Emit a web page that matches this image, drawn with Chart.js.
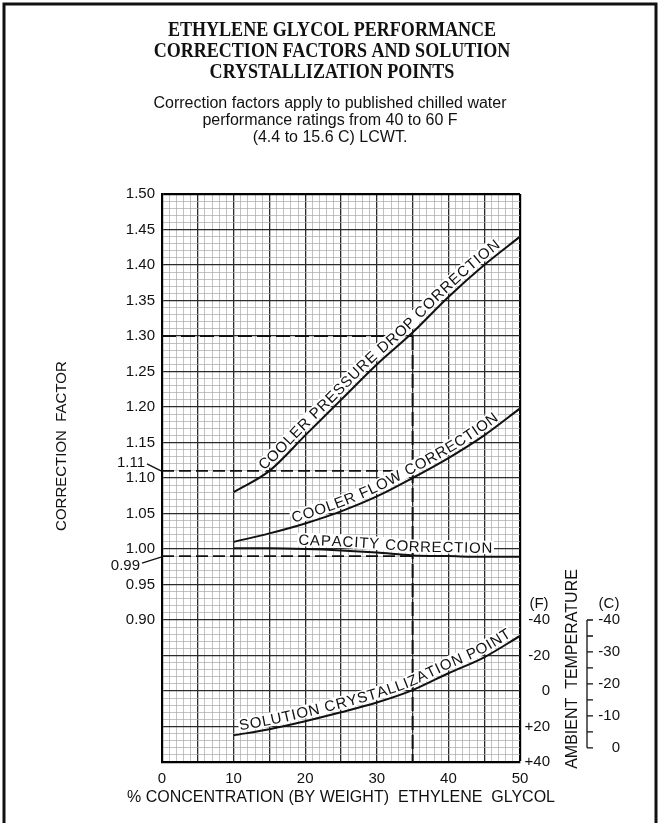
<!DOCTYPE html>
<html>
<head>
<meta charset="utf-8">
<script src="https://cdn.jsdelivr.net/npm/chart.js@4.4.1/dist/chart.umd.min.js"></script>
<style>
  html, body { margin: 0; padding: 0; background: #fff; }
  #wrap { position: relative; width: 660px; height: 823px; }
</style>
</head>
<body>
<div id="wrap"><canvas id="myChart"></canvas></div>
<script>
// % ethylene glycol by weight
var concentration = [10, 15, 20, 25, 30, 35, 40, 45, 50];
var pressureDrop = [1.08, 1.11, 1.16, 1.21, 1.26, 1.305, 1.355, 1.40, 1.44];
var flowCorrection = [1.01, 1.022, 1.036, 1.053, 1.074, 1.10, 1.128, 1.16, 1.198];
var capacityCorrection = [1.001, 1.001, 1.000, 0.998, 0.995, 0.991, 0.990, 0.989, 0.989];
// solution crystallization point, deg F
var crystalPointF = [25, 21.5, 17, 12, 6.5, -0.5, -10, -19, -31];

// worked example read at 35 %
var examplePct = 35;
var examplePressure = 1.30;
var exampleFlow = 1.11;
var exampleCapacity = 0.99;

var xTickLabels = [0, 10, 20, 30, 40, 50];
var yTickLabels = [0.90, 0.95, 1.00, 1.05, 1.10, 1.15, 1.20, 1.25, 1.30, 1.35, 1.40, 1.45, 1.50];
var calloutValues = [1.11, 0.99];
var fTicks = [-40, -20, 0, 20, 40];
var cTicks = [-40, -35, -30, -25, -20, -15, -10, -5, 0];
var cTickLabels = [-40, -30, -20, -10, 0];

var curveLabels = [
    {dataset: 0, text: 'COOLER PRESSURE DROP CORRECTION', from: 14.4},
    {dataset: 1, text: 'COOLER FLOW CORRECTION', from: 18.3},
    {dataset: 2, text: 'CAPACITY CORRECTION', from: 19},
    {dataset: 3, text: 'SOLUTION CRYSTALLIZATION POINT', from: 10.9}
];

var SANS = '"Liberation Sans", Arial, Helvetica, sans-serif';
var SERIF = '"Liberation Serif", "Times New Roman", serif';
var INK = '#111';

function pairs(xs, ys) {
    return xs.map(function (x, i) { return {x: x, y: ys[i]}; });
}

function curve(data, axis) {
    return {
        data: data, yAxisID: axis || 'y',
        borderColor: INK, borderWidth: 2, pointRadius: 0,
        cubicInterpolationMode: 'monotone', fill: false
    };
}

function dashed(data, width, dash) {
    return {
        data: data, borderColor: INK, borderWidth: width, borderDash: dash,
        pointRadius: 0, tension: 0, fill: false
    };
}

function majorX(v) { return Math.round(v) % 5 === 0; }
function majorY(v) { return Math.round(v * 100) % 5 === 0; }

// ---- text along a drawn curve ----
function samplePath(points) {
    var out = [];
    for (var i = 0; i < points.length - 1; i++) {
        var a = points[i], b = points[i + 1];
        var c1x = a.cp2x !== undefined ? a.cp2x : a.x, c1y = a.cp2y !== undefined ? a.cp2y : a.y;
        var c2x = b.cp1x !== undefined ? b.cp1x : b.x, c2y = b.cp1y !== undefined ? b.cp1y : b.y;
        for (var k = 0; k < 20; k++) {
            var t = k / 20, m = 1 - t;
            out.push({
                x: m * m * m * a.x + 3 * m * m * t * c1x + 3 * m * t * t * c2x + t * t * t * b.x,
                y: m * m * m * a.y + 3 * m * m * t * c1y + 3 * m * t * t * c2y + t * t * t * b.y
            });
        }
    }
    var last = points[points.length - 1];
    out.push({x: last.x, y: last.y});
    var cum = [0];
    for (var j = 1; j < out.length; j++) {
        cum.push(cum[j - 1] + Math.hypot(out[j].x - out[j - 1].x, out[j].y - out[j - 1].y));
    }
    return {p: out, cum: cum};
}

function posAt(path, s) {
    var p = path.p, cum = path.cum;
    if (s <= 0) return p[0];
    for (var i = 1; i < p.length; i++) {
        if (cum[i] >= s) {
            var f = (s - cum[i - 1]) / (cum[i] - cum[i - 1] || 1);
            return {x: p[i - 1].x + f * (p[i].x - p[i - 1].x), y: p[i - 1].y + f * (p[i].y - p[i - 1].y)};
        }
    }
    var a = p[p.length - 2], b = p[p.length - 1], over = s - cum[cum.length - 1];
    var L = Math.hypot(b.x - a.x, b.y - a.y) || 1;
    return {x: b.x + (b.x - a.x) / L * over, y: b.y + (b.y - a.y) / L * over};
}

function drawCurveLabel(c, chart, lab) {
    var meta = chart.getDatasetMeta(lab.dataset);
    var path = samplePath(meta.data);
    var startPx = chart.scales.x.getPixelForValue(lab.from);
    var s = 0;
    for (var i = 0; i < path.p.length; i++) {
        if (path.p[i].x >= startPx) { s = path.cum[i]; break; }
    }
    c.font = '15px ' + SANS;
    var items = [];
    for (var n = 0; n < lab.text.length; n++) {
        var ch = lab.text[n];
        var w = c.measureText(ch).width;
        var p0 = posAt(path, s), p1 = posAt(path, s + w), pm = posAt(path, s + w / 2);
        items.push({ch: ch, x: pm.x, y: pm.y, a: Math.atan2(p1.y - p0.y, p1.x - p0.x), w: w});
        s += w + 0.8;
    }
    var gap = 4;
    c.fillStyle = '#fff';
    items.forEach(function (it) {
        c.save();
        c.translate(it.x, it.y);
        c.rotate(it.a);
        c.fillRect(-it.w / 2 - 1, -gap - 12, it.w + 2.8, 13.5);
        c.restore();
    });
    c.fillStyle = INK;
    c.textAlign = 'center';
    c.textBaseline = 'alphabetic';
    items.forEach(function (it) {
        c.save();
        c.translate(it.x, it.y);
        c.rotate(it.a);
        c.fillText(it.ch, 0, -gap);
        c.restore();
    });
}

function centeredLines(c, lines, font, cx, y0, dy, squeeze) {
    c.font = font;
    c.textAlign = 'center';
    c.textBaseline = 'alphabetic';
    lines.forEach(function (t, i) {
        c.save();
        c.translate(cx, y0 + i * dy);
        c.scale(squeeze, 1);
        c.fillText(t, 0, 0);
        c.restore();
    });
}

var sheet = {
    id: 'sheet',
    beforeDraw: function (chart) {
        var c = chart.ctx;
        c.save();
        c.fillStyle = '#fff';
        c.fillRect(0, 0, chart.width, chart.height);
        c.restore();
    },
    afterDatasetsDraw: function (chart) {
        var c = chart.ctx;
        c.save();
        curveLabels.forEach(function (lab) { drawCurveLabel(c, chart, lab); });
        c.restore();
    },
    afterDraw: function (chart) {
        var c = chart.ctx;
        var area = chart.chartArea;
        var y = chart.scales.y, yF = chart.scales.yF, yC = chart.scales.yC;
        c.save();
        c.fillStyle = INK;
        c.strokeStyle = INK;

        // heading
        centeredLines(c, ['ETHYLENE GLYCOL PERFORMANCE', 'CORRECTION FACTORS AND SOLUTION', 'CRYSTALLIZATION POINTS'],
            'bold 22px ' + SERIF, 332, 36, 21, 0.82);
        centeredLines(c, ['Correction factors apply to published chilled water', 'performance ratings from 40 to 60 F', '(4.4 to 15.6 C) LCWT.'],
            '16px ' + SANS, 330, 108, 17, 1);

        // frame
        c.lineWidth = 3;
        c.beginPath();
        c.moveTo(4, 840); c.lineTo(4, 4); c.lineTo(656, 4); c.lineTo(656, 840);
        c.stroke();

        // axis titles
        var xTitle = '% CONCENTRATION (BY WEIGHT)  ETHYLENE  GLYCOL';
        c.font = '16px ' + SANS;
        c.textAlign = 'center';
        c.textBaseline = 'middle';
        c.save();
        c.translate(341, area.bottom + 36);
        c.scale(428 / c.measureText(xTitle).width, 1);
        c.fillText(xTitle, 0, 0);
        c.restore();
        c.save();
        c.font = '15px ' + SANS;
        c.translate(62, y.getPixelForValue(1.145));
        c.rotate(-Math.PI / 2);
        c.fillText('CORRECTION  FACTOR', 0, 0);
        c.restore();

        // 1.11 and 0.99 callouts
        c.font = '15px ' + SANS;
        c.textAlign = 'right';
        c.textBaseline = 'middle';
        c.lineWidth = 1.3;
        calloutValues.forEach(function (v) {
            var py = y.getPixelForValue(v);
            var up = v > 1;
            var ty = up ? py - 8 : py + 10;
            c.fillText(v.toFixed(2), up ? 145 : 140, ty);
            c.beginPath();
            if (up) { c.moveTo(147, py - 7); c.lineTo(161, py); }
            else { c.moveTo(142, py + 7); c.lineTo(161, py + 1); }
            c.stroke();
        });

        // temperature scale headings
        c.textAlign = 'center';
        c.textBaseline = 'middle';
        var top = yF.getPixelForValue(-40);
        c.fillText('(F)', yF.right - 11, top - 16);
        c.fillText('(C)', yC.right - 11, top - 16);
        c.save();
        c.font = '16px ' + SANS;
        c.translate(yC.left + 23, yF.getPixelForValue(0) - 22);
        c.rotate(-Math.PI / 2);
        c.fillText('AMBIENT  TEMPERATURE', 0, 0);
        c.restore();

        // celsius bracket
        var bx = yC.left + 37;
        c.lineWidth = 1.3;
        c.beginPath();
        c.moveTo(bx, yC.getPixelForValue(cTicks[0]));
        c.lineTo(bx, yC.getPixelForValue(cTicks[cTicks.length - 1]));
        cTicks.forEach(function (v) {
            var py = yC.getPixelForValue(v);
            c.moveTo(bx, py);
            c.lineTo(bx + 6, py);
        });
        c.stroke();
        c.restore();
    }
};

var ctx = document.getElementById('myChart').getContext('2d');
var myChart = new Chart(ctx, {
    type: 'line',
    data: {
        datasets: [
            curve(pairs(concentration, pressureDrop)),
            curve(pairs(concentration, flowCorrection)),
            curve(pairs(concentration, capacityCorrection)),
            curve(pairs(concentration, crystalPointF), 'yF'),
            dashed([{x: 0, y: examplePressure}, {x: examplePct, y: examplePressure}], 2, [14, 5]),
            dashed([{x: examplePct, y: examplePressure}, {x: examplePct, y: 0.70}], 2, [14, 5]),
            dashed([{x: 0, y: exampleFlow}, {x: examplePct, y: exampleFlow}], 1.8, [12, 5]),
            dashed([{x: 0, y: exampleCapacity}, {x: examplePct, y: exampleCapacity}], 1.8, [12, 5])
        ]
    },
    options: {
        responsive: true,
        maintainAspectRatio: false,
        animation: false,
        layout: {padding: {top: 194, left: 45, right: 40, bottom: 0}},
        plugins: {
            legend: {display: false},
            tooltip: {enabled: false}
        },
        scales: {
            x: {
                type: 'linear',
                min: 0,
                max: 50,
                afterFit: function (s) { s.height = 61; },
                ticks: {
                    stepSize: 1,
                    autoSkip: false,
                    maxRotation: 0,
                    padding: 8,
                    color: INK,
                    font: {family: SANS, size: 15},
                    callback: function (v) { return xTickLabels.indexOf(v) >= 0 ? String(v) : ''; }
                },
                grid: {
                    drawTicks: false,
                    color: function (c) {
                        var v = c.tick ? c.tick.value : 0;
                        return v === 50 ? '#000' : (majorX(v) ? '#2b2b2b' : '#a8a8a8');
                    },
                    lineWidth: function (c) {
                        var v = c.tick ? c.tick.value : 0;
                        return v === 50 ? 2.2 : (majorX(v) ? 1.3 : 0.7);
                    }
                },
                border: {color: '#000', width: 2.2}
            },
            y: {
                type: 'linear',
                position: 'left',
                min: 0.70,
                max: 1.50,
                afterFit: function (s) { s.width = 117; },
                afterBuildTicks: function (s) {
                    var t = [];
                    for (var k = 70; k <= 150; k++) t.push({value: k / 100});
                    s.ticks = t;
                },
                ticks: {
                    autoSkip: false,
                    padding: 7,
                    color: INK,
                    font: {family: SANS, size: 15},
                    callback: function (v) {
                        for (var i = 0; i < yTickLabels.length; i++) {
                            if (Math.abs(yTickLabels[i] - v) < 1e-6) return yTickLabels[i].toFixed(2);
                        }
                        return '';
                    }
                },
                grid: {
                    drawTicks: false,
                    color: function (c) {
                        var v = c.tick ? c.tick.value : 0;
                        return Math.abs(v - 1.5) < 1e-6 ? '#000' : (majorY(v) ? '#2b2b2b' : '#a8a8a8');
                    },
                    lineWidth: function (c) {
                        var v = c.tick ? c.tick.value : 0;
                        return Math.abs(v - 1.5) < 1e-6 ? 2.2 : (majorY(v) ? 1.3 : 0.7);
                    }
                },
                border: {color: '#000', width: 2.2}
            },
            yF: {
                type: 'linear',
                position: 'right',
                reverse: true,
                min: -280,
                max: 40,
                weight: 1,
                afterFit: function (s) { s.width = 30; },
                afterBuildTicks: function (s) {
                    s.ticks = fTicks.map(function (v) { return {value: v}; });
                },
                ticks: {
                    autoSkip: false,
                    crossAlign: 'far',
                    color: INK,
                    font: {family: SANS, size: 15},
                    callback: function (v) { return v > 0 ? '+' + v : String(v); }
                },
                grid: {display: false, drawTicks: false},
                border: {display: false}
            },
            yC: {
                type: 'linear',
                position: 'right',
                reverse: true,
                min: (-280 - 32) * 5 / 9,
                max: (40 - 32) * 5 / 9,
                weight: 2,
                afterFit: function (s) { s.width = 70; },
                afterBuildTicks: function (s) {
                    s.ticks = cTicks.map(function (v) { return {value: v}; });
                },
                ticks: {
                    autoSkip: false,
                    crossAlign: 'far',
                    color: INK,
                    font: {family: SANS, size: 15},
                    callback: function (v) { return cTickLabels.indexOf(v) >= 0 ? String(v) : ''; }
                },
                grid: {display: false, drawTicks: false},
                border: {display: false}
            }
        }
    },
    plugins: [sheet]
});
</script>
</body>
</html>
